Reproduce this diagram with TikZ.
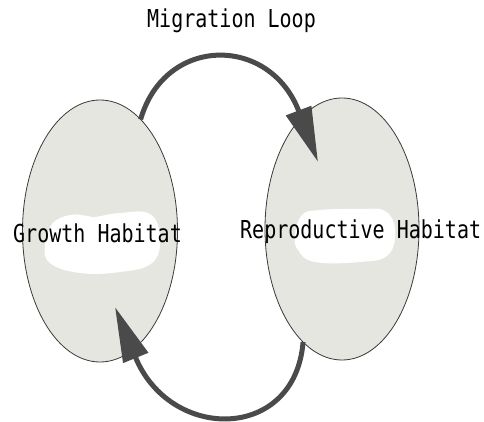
\documentclass[tikz,border=0pt]{standalone}
\usepackage{fontspec}
\newfontfamily\labelfont[FakeStretch=0.81]{DejaVu Sans Mono}
\usetikzlibrary{arrows.meta,shapes.geometric}
\definecolor{habfill}{HTML}{E6E6E1}
\definecolor{habline}{HTML}{3A3A3A}
\definecolor{loopcol}{HTML}{4A4A4A}
\tikzset{
  habitat/.style={ellipse, draw=habline, line width=0.8pt, fill=habfill,
    inner sep=0pt, outer sep=0pt},
  core/.style={fill=white, draw=none},
  looparrow/.style={draw=loopcol, line width=5pt,
    -{Triangle[length=55pt,width=26pt,fill=loopcol]}},
  label/.style={font=\labelfont\fontsize{24.7}{28}\selectfont, inner sep=0pt,
    anchor=base west, text=black}
}
\begin{document}
\begin{tikzpicture}[x=1pt,y=1pt]
  \useasboundingbox (0,0) rectangle (484,421);
  \fill[white] (0,0) rectangle (484,421);

  % the two habitats
  \node[habitat, minimum width=155pt, minimum height=262pt] (grow) at (100,190) {};
  \node[habitat, minimum width=154pt, minimum height=262pt] (repro) at (342,192) {};

  % white cores of the habitats
  \path[core] plot[smooth cycle, tension=0.7] coordinates
    {(45,176) (52,197) (70,206) (88,205) (95,204) (120,208) (150,207)
     (160,183) (152,158) (120,149) (80,148) (50,158)};
  \path[core] plot[smooth cycle, tension=0.7] coordinates
    {(295,186) (302,206) (320,211) (360,212) (385,210) (395,191)
     (388,166) (360,159) (315,159) (298,171)};

  % arrow tips inside the habitats
  \coordinate (reproIn) at (318,259);
  \coordinate (growIn) at (115,114);

  % migration loop
  \draw[looparrow] (grow.70) .. controls (165,386) and (270,386) .. (reproIn);
  \draw[looparrow] (repro.251) .. controls (295,-21) and (170,-21) .. (growIn);

  % labels
  \node[label] (title) at (147,393) {Migration Loop};
  \node[label] (growlbl) at (13,179) {Growth Habitat};
  \node[label] (reprolbl) at (240,183) {Reproductive Habitat};
\end{tikzpicture}
\end{document}
